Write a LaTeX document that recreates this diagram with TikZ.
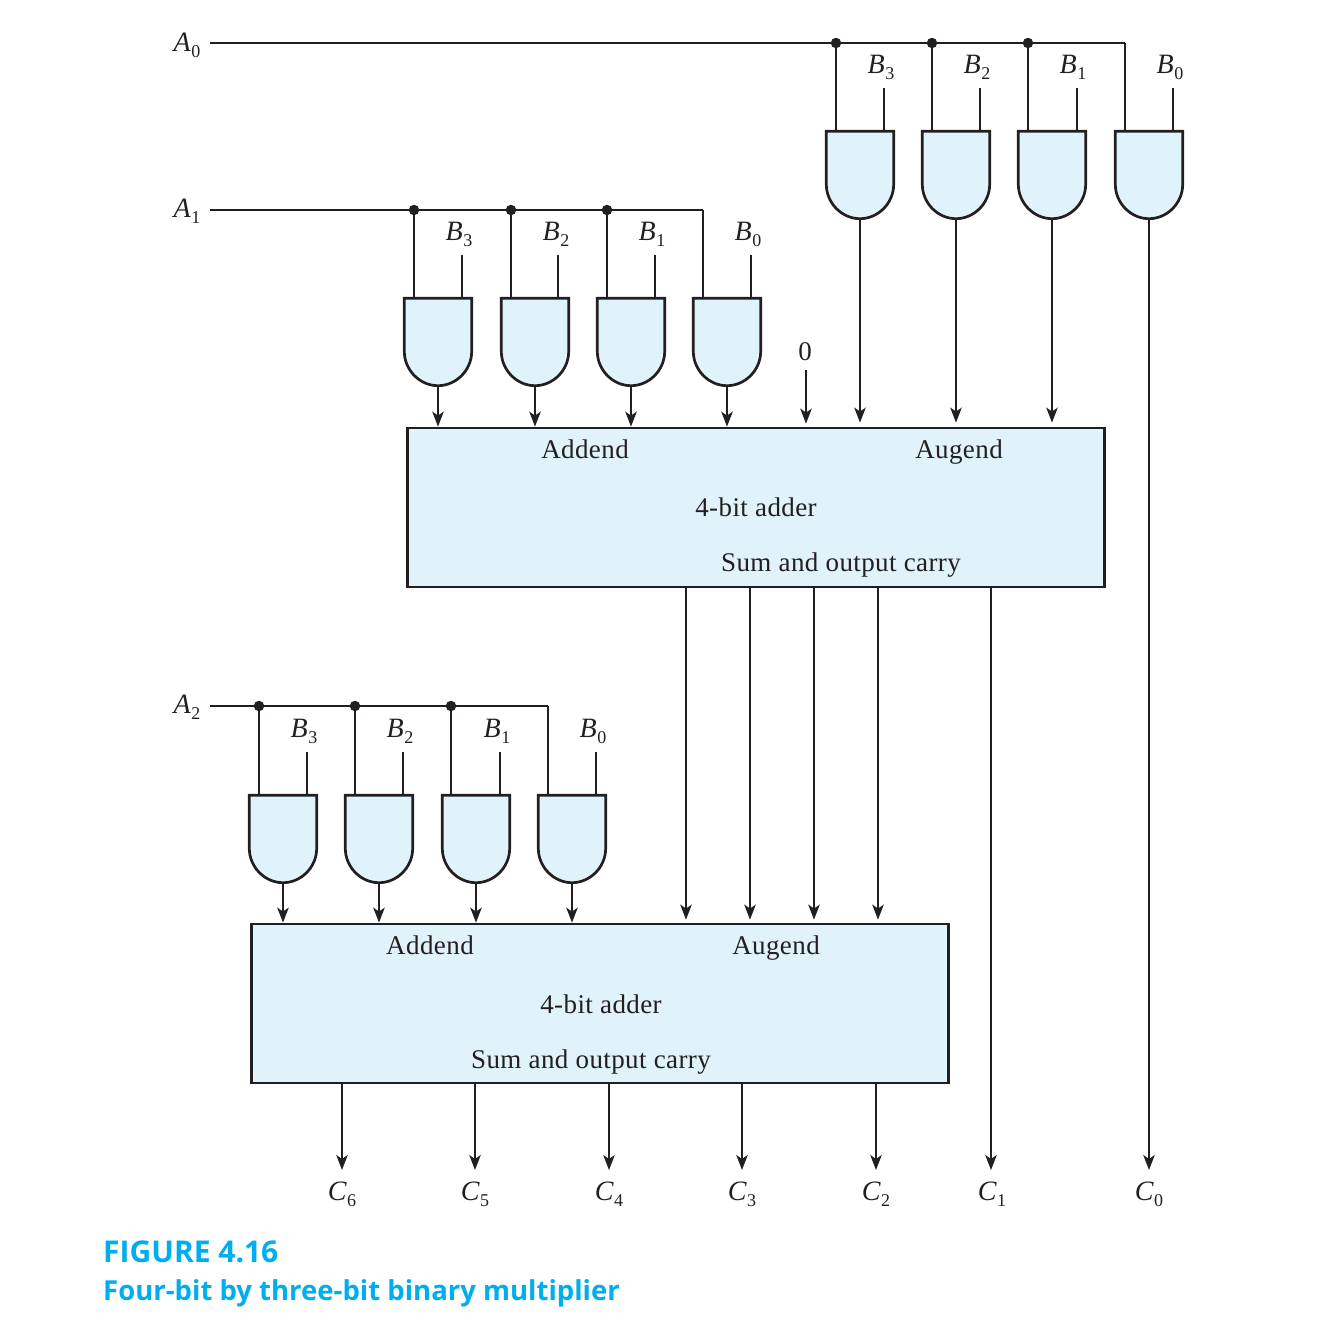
\documentclass[tikz,border=0pt]{standalone}
\usepackage{fontspec}
\setmainfont{Liberation Serif}
\newfontfamily\capfont{Open Sans}
\newfontfamily\boxfont[LetterSpace=1.5]{Liberation Serif}
\usetikzlibrary{arrows.meta,calc}
\definecolor{ink}{HTML}{231F20}
\definecolor{pale}{HTML}{E0F2FA}
\definecolor{capblue}{HTML}{00AEEF}
\newcommand{\sig}[2]{\textit{#1}\kern0.5pt\raisebox{-6pt}{\fontsize{18}{18}\selectfont #2}}
\tikzset{
  wire/.style={draw=ink,line width=1.7pt},
  arrowwire/.style={wire,-{Stealth[length=15pt,width=11.5pt,inset=4pt]}},
  gatebody/.style={draw=none,inner sep=0pt,minimum width=67pt,minimum height=87pt},
  gateshape/.style={draw=ink,fill=pale,line width=2.7pt,line join=miter},
  adderbox/.style={draw=ink,fill=pale,line width=2.8pt,inner sep=0pt,minimum width=697pt,minimum height=159pt},
  dot/.style={circle,fill=ink,draw=none,inner sep=0pt,minimum size=10.5pt},
  lab/.style={anchor=base,inner sep=0pt,text=ink,font=\fontsize{28}{28}\selectfont},
  boxlab/.style={anchor=base,inner sep=0pt,text=ink,font=\boxfont\fontsize{27}{27}\selectfont},
  caption/.style={anchor=base west,inner sep=0pt,text=capblue}
}
% name, centre x, top y, x of left input, x of right input, y of the rail
\newcommand{\gate}[6]{%
  \node[gatebody] (#1) at (#2,#3+44) {};
  \coordinate (#1a) at (#4,#6);
  \coordinate (#1b) at (#5,#3-43);
  \draw[gateshape] (#1.north west) -- (#1.north east) -- ($(#1.north east)+(0,53)$)
    .. controls ($(#1.north east)+(0,72)$) and ($(#1.south)+(18,0)$) .. (#1.south)
    .. controls ($(#1.south)+(-18,0)$) and ($(#1.north west)+(0,72)$) .. ($(#1.north west)+(0,53)$) -- cycle;
  \draw[wire] (#1a) -- (#1a |- #1.north);
  \draw[wire] (#1b) -- (#1b |- #1.north);
}
\begin{document}
\begin{tikzpicture}[x=1pt,y=-1pt]
\useasboundingbox (0,0) rectangle (1332,1334);

% adders
\node[adderbox] (add1) at (756,507.5) {};
\node[adderbox] (add2) at (600,1003.5) {};

% row 0
\gate{pa}{860}{131}{836}{884}{43}
\gate{pb}{956}{131}{932}{980}{43}
\gate{pc}{1052}{131}{1028}{1077}{43}
\gate{pd}{1149}{131}{1125}{1173}{43}
% row 1
\gate{qa}{438}{298}{414}{462}{210}
\gate{qb}{535}{298}{511}{558}{210}
\gate{qc}{631}{298}{607}{655}{210}
\gate{qd}{727}{298}{703}{751}{210}
% row 2
\gate{ra}{283}{795}{259}{307}{706}
\gate{rb}{379}{795}{355}{403}{706}
\gate{rc}{476}{795}{451}{500}{706}
\gate{rd}{572}{795}{548}{596}{706}

% rails
\coordinate (s0) at (210,43);
\coordinate (s1) at (210,210);
\coordinate (s2) at (210,706);
\draw[wire] (s0) -- (pda);
\draw[wire] (s1) -- (qda);
\draw[wire] (s2) -- (rda);
\foreach \g in {pa,pb,pc,qa,qb,qc,ra,rb,rc}
  \node[dot] at (\g a) {};

% row labels
\node[lab] (la0) at (187,51) {\sig{A}{0}};
\node[lab] (la1) at (187,217) {\sig{A}{1}};
\node[lab] (la2) at (187,713) {\sig{A}{2}};
\foreach \n/\x in {3/881,2/977,1/1073,0/1170}
  \node[lab] (lp\n) at (\x,73) {\sig{B}{\n}};
\foreach \n/\x in {3/459,2/556,1/652,0/748}
  \node[lab] (lq\n) at (\x,240) {\sig{B}{\n}};
\foreach \n/\x in {3/304,2/400,1/497,0/593}
  \node[lab] (lr\n) at (\x,737) {\sig{B}{\n}};

% gate outputs into adders
\foreach \g in {qa,qb,qc,qd}
  \draw[arrowwire] (\g.south) -- (\g.south |- add1.north);
\foreach \g in {ra,rb,rc,rd}
  \draw[arrowwire] (\g.south) -- (\g.south |- add2.north);
\foreach \g in {pa,pb,pc}
  \draw[arrowwire] (\g.south) -- ($(\g.south |- add1.north)+(0,-4)$);

% zero
\node[boxlab] (zero) at (805,360) {0};
\coordinate (zs) at (806,370);
\draw[arrowwire] (zs) -- ($(zs |- add1.north)+(0,-3)$);

% adder 1 to adder 2
\foreach \x in {686,750,814,878}
  \draw[arrowwire] (\x,587) -- ($(\x,587 |- add2.north)+(0,-3)$);

% outputs
\node[lab] (c6) at (342,1200) {\sig{C}{6}};
\node[lab] (c5) at (475,1200) {\sig{C}{5}};
\node[lab] (c4) at (609,1200) {\sig{C}{4}};
\node[lab] (c3) at (742,1200) {\sig{C}{3}};
\node[lab] (c2) at (876,1200) {\sig{C}{2}};
\node[lab] (c1) at (992,1200) {\sig{C}{1}};
\node[lab] (c0) at (1149,1200) {\sig{C}{0}};
\foreach \x in {342,475,609,742,876}
  \draw[arrowwire] (\x,1083) -- (\x,1170);
\draw[arrowwire] (991,587) -- (991,1170);
\draw[arrowwire] (pd.south) -- (1149,1170);

% adder texts
\node[boxlab] (t1) at (585,458) {Addend};
\node[boxlab] (t2) at (959,458) {Augend};
\node[boxlab] (t3) at (756,516) {4-bit adder};
\node[boxlab] (t4) at (841,571) {Sum and output carry};
\node[boxlab] (u1) at (430,954) {Addend};
\node[boxlab] (u2) at (776,954) {Augend};
\node[boxlab] (u3) at (601,1013) {4-bit adder};
\node[boxlab] (u4) at (591,1068) {Sum and output carry};

% caption
\node[caption,font=\capfont\bfseries\fontsize{30}{30}\selectfont] (cap1) at (103,1262) {FIGURE 4.16};
\node[caption,font=\capfont\bfseries\fontsize{27.5}{27.5}\selectfont] (cap2) at (103,1300) {Four-bit by three-bit binary multiplier};
\end{tikzpicture}
\end{document}
